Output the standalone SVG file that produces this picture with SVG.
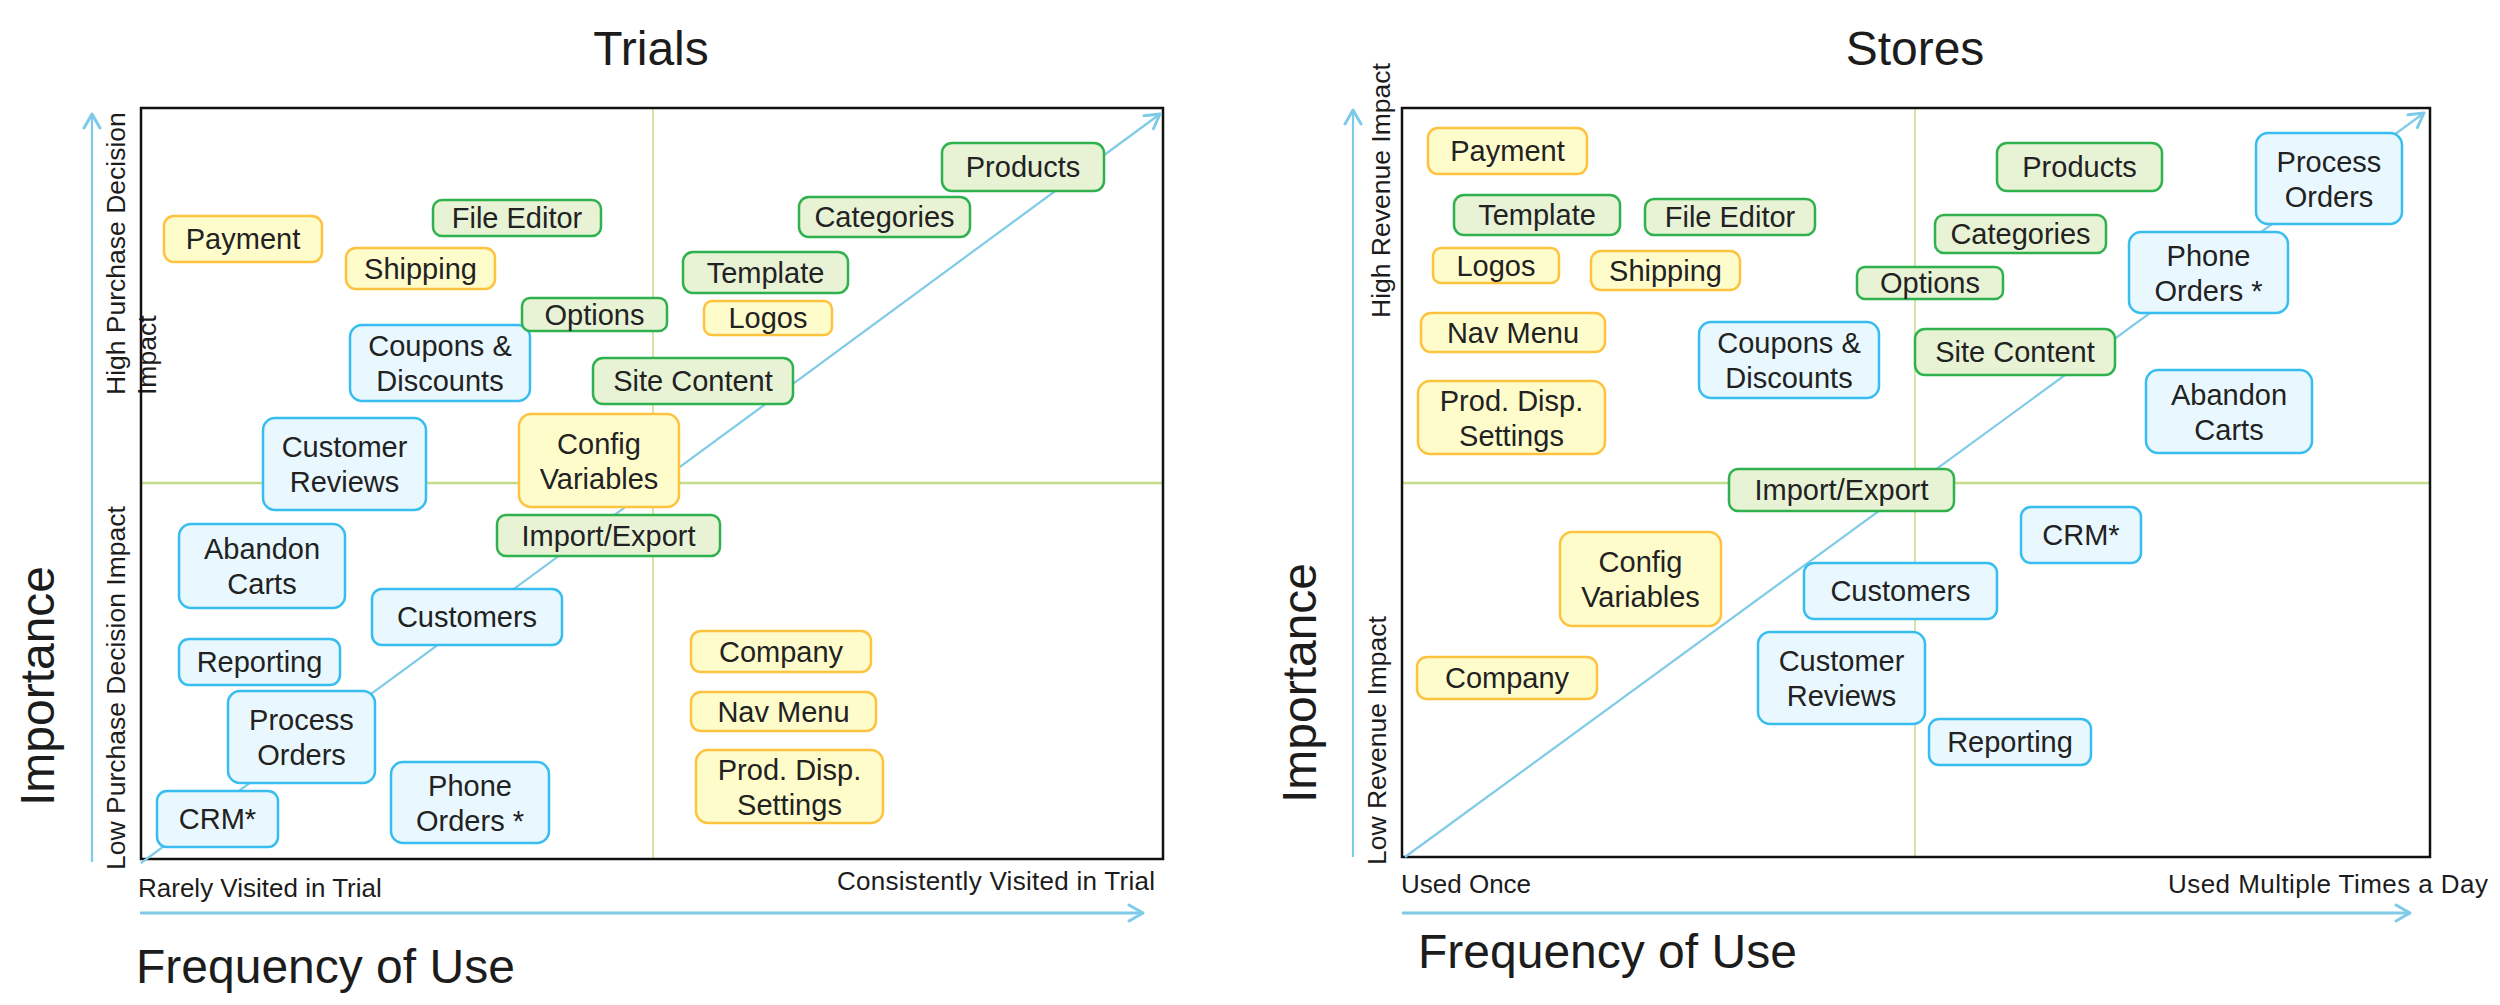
<svg xmlns="http://www.w3.org/2000/svg" width="2500" height="1005" viewBox="0 0 2500 1005">
<defs>
<style>
text{font-family:"Liberation Sans",Arial,sans-serif;fill:#1c1c1c}
.node rect{stroke-width:2.5}
.node text{font-size:29px;text-anchor:middle;fill:#222}
.y rect{fill:#FFFCCC;stroke:#FDC23E}
.g rect{fill:#E8F3D6;stroke:#2FB14E}
.b rect{fill:#E9F8FE;stroke:#38BDF0}
.title{font-size:48px;text-anchor:middle}
.big{font-size:48px}
.ax{font-size:26.5px}
.axs{font-size:26px}
.frame{fill:none;stroke:#111;stroke-width:2.5}
.mid{stroke:#C2DC8A;stroke-width:2.5}
.midv{stroke:#C2DC8A;stroke-width:1.5}
.con{fill:none;stroke:#7FCBE7;stroke-width:2.2}
.axis{fill:none;stroke:#7FCBE7;stroke-width:3}
</style>
<marker id="arr" viewBox="0 0 18 20" refX="16" refY="10" markerWidth="18" markerHeight="20" orient="auto" markerUnits="userSpaceOnUse">
<path d="M2,2 L16,10 L2,18" fill="none" stroke="#7FCBE7" stroke-width="3" stroke-linecap="round" stroke-linejoin="round"/>
</marker>
</defs>
<rect width="2500" height="1005" fill="#fff"/>

<!-- Titles and axis labels -->
<text class="title" x="651" y="65">Trials</text>
<text class="title" x="1915" y="65">Stores</text>

<text class="big" transform="translate(54,686) rotate(-90)" text-anchor="middle">Importance</text>
<text class="big" transform="translate(1316,683) rotate(-90)" text-anchor="middle">Importance</text>

<text class="ax" transform="translate(125,395) rotate(-90)">High Purchase Decision</text>
<text class="ax" transform="translate(156,395) rotate(-90)">Impact</text>
<text class="ax" transform="translate(125,870) rotate(-90)">Low Purchase Decision Impact</text>
<text class="ax" transform="translate(1390,318) rotate(-90)">High Revenue Impact</text>
<text class="ax" transform="translate(1386,865) rotate(-90)">Low Revenue Impact</text>

<text class="axs" x="138" y="897">Rarely Visited in Trial</text>
<text class="axs" x="837" y="890" textLength="318">Consistently Visited in Trial</text>
<text class="axs" x="1401" y="893">Used Once</text>
<text class="axs" x="2168" y="893" textLength="320">Used Multiple Times a Day</text>

<text class="big" x="136" y="983">Frequency of Use</text>
<text class="big" x="1418" y="968">Frequency of Use</text>

<!-- Plot frames and quadrant lines -->
<line class="mid" x1="141" y1="483" x2="1163" y2="483"/>
<line class="midv" x1="653" y1="108" x2="653" y2="859"/>
<rect class="frame" x="141" y="108" width="1022" height="751"/>
<line class="mid" x1="1402" y1="483" x2="2430" y2="483"/>
<line class="midv" x1="1915" y1="108" x2="1915" y2="857"/>
<rect class="frame" x="1402" y="108" width="1028" height="749"/>

<!-- Connectors -->
<g id="connectors">
<line class="con" x1="141" y1="863" x2="1160" y2="114" marker-end="url(#arr)"/>
<line class="con" x1="1405" y1="857" x2="2424" y2="113" marker-end="url(#arr)"/>
<line class="con" x1="92" y1="862" x2="92" y2="114" marker-end="url(#arr)"/>
<line class="con" x1="1353" y1="857" x2="1353" y2="110" marker-end="url(#arr)"/>
<line class="axis" x1="140" y1="913" x2="1143" y2="913" marker-end="url(#arr)"/>
<line class="axis" x1="1402" y1="913" x2="2410" y2="913" marker-end="url(#arr)"/>
</g>

<!-- Trials nodes -->
<g id="t-products" class="node g"><rect x="942" y="143" width="162" height="48" rx="10"/><text x="1023" y="177">Products</text></g>
<g id="t-categories" class="node g"><rect x="799" y="197" width="171" height="40" rx="10"/><text x="884.5" y="227">Categories</text></g>
<g id="t-file-editor" class="node g"><rect x="433" y="200" width="168" height="36" rx="9"/><text x="517" y="228">File Editor</text></g>
<g id="t-payment" class="node y"><rect x="164" y="216" width="158" height="46" rx="10"/><text x="243" y="249">Payment</text></g>
<g id="t-shipping" class="node y"><rect x="346" y="248" width="149" height="41" rx="10"/><text x="420.5" y="278.5">Shipping</text></g>
<g id="t-template" class="node g"><rect x="683" y="252" width="165" height="41" rx="10"/><text x="765.5" y="282.5">Template</text></g>
<g id="t-coupons" class="node b"><rect x="350" y="325" width="180" height="76" rx="12"/><text x="440" y="356">Coupons &amp;<tspan x="440" dy="35">Discounts</tspan></text></g>
<g id="t-options" class="node g"><rect x="522" y="298" width="145" height="33" rx="8"/><text x="594.5" y="324.5">Options</text></g>
<g id="t-logos" class="node y"><rect x="704" y="301" width="128" height="34" rx="8"/><text x="768" y="328">Logos</text></g>
<g id="t-site-content" class="node g"><rect x="593" y="358" width="200" height="46" rx="10"/><text x="693" y="391">Site Content</text></g>
<g id="t-customer-reviews" class="node b"><rect x="263" y="418" width="163" height="92" rx="12"/><text x="344.5" y="457">Customer<tspan x="344.5" dy="35">Reviews</tspan></text></g>
<g id="t-config-variables" class="node y"><rect x="519" y="414" width="160" height="93" rx="12"/><text x="599" y="453.5">Config<tspan x="599" dy="35">Variables</tspan></text></g>
<g id="t-import-export" class="node g"><rect x="497" y="515" width="223" height="41" rx="9"/><text x="608.5" y="545.5">Import/Export</text></g>
<g id="t-abandon-carts" class="node b"><rect x="179" y="524" width="166" height="84" rx="12"/><text x="262" y="559">Abandon<tspan x="262" dy="35">Carts</tspan></text></g>
<g id="t-customers" class="node b"><rect x="372" y="589" width="190" height="56" rx="10"/><text x="467" y="627">Customers</text></g>
<g id="t-reporting" class="node b"><rect x="179" y="639" width="161" height="46" rx="10"/><text x="259.5" y="672">Reporting</text></g>
<g id="t-process-orders" class="node b"><rect x="228" y="691" width="147" height="92" rx="12"/><text x="301.5" y="730">Process<tspan x="301.5" dy="35">Orders</tspan></text></g>
<g id="t-crm" class="node b"><rect x="157" y="791" width="121" height="56" rx="10"/><text x="217.5" y="829">CRM*</text></g>
<g id="t-phone-orders" class="node b"><rect x="391" y="762" width="158" height="81" rx="12"/><text x="470" y="795.5">Phone<tspan x="470" dy="35">Orders *</tspan></text></g>
<g id="t-company" class="node y"><rect x="691" y="631" width="180" height="41" rx="10"/><text x="781" y="661.5">Company</text></g>
<g id="t-nav-menu" class="node y"><rect x="691" y="692" width="185" height="39" rx="10"/><text x="783.5" y="721.5">Nav Menu</text></g>
<g id="t-prod-disp" class="node y"><rect x="696" y="750" width="187" height="73" rx="12"/><text x="789.5" y="779.5">Prod. Disp.<tspan x="789.5" dy="35">Settings</tspan></text></g>

<!-- Stores nodes -->
<g id="s-payment" class="node y"><rect x="1428" y="128" width="159" height="46" rx="10"/><text x="1507.5" y="161">Payment</text></g>
<g id="s-template" class="node g"><rect x="1454" y="195" width="166" height="40" rx="10"/><text x="1537" y="225">Template</text></g>
<g id="s-file-editor" class="node g"><rect x="1645" y="199" width="170" height="36" rx="9"/><text x="1730" y="227">File Editor</text></g>
<g id="s-logos" class="node y"><rect x="1433" y="248" width="126" height="35" rx="8"/><text x="1496" y="275.5">Logos</text></g>
<g id="s-shipping" class="node y"><rect x="1591" y="251" width="149" height="39" rx="10"/><text x="1665.5" y="280.5">Shipping</text></g>
<g id="s-nav-menu" class="node y"><rect x="1421" y="313" width="184" height="39" rx="10"/><text x="1513" y="342.5">Nav Menu</text></g>
<g id="s-prod-disp" class="node y"><rect x="1418" y="381" width="187" height="73" rx="12"/><text x="1511.5" y="410.5">Prod. Disp.<tspan x="1511.5" dy="35">Settings</tspan></text></g>
<g id="s-coupons" class="node b"><rect x="1699" y="322" width="180" height="76" rx="12"/><text x="1789" y="353">Coupons &amp;<tspan x="1789" dy="35">Discounts</tspan></text></g>
<g id="s-products" class="node g"><rect x="1997" y="143" width="165" height="48" rx="10"/><text x="2079.5" y="177">Products</text></g>
<g id="s-categories" class="node g"><rect x="1935" y="215" width="171" height="38" rx="9"/><text x="2020.5" y="244">Categories</text></g>
<g id="s-options" class="node g"><rect x="1857" y="267" width="146" height="32" rx="8"/><text x="1930" y="293">Options</text></g>
<g id="s-site-content" class="node g"><rect x="1915" y="329" width="200" height="46" rx="10"/><text x="2015" y="362">Site Content</text></g>
<g id="s-process-orders" class="node b"><rect x="2256" y="133" width="146" height="91" rx="12"/><text x="2329" y="171.5">Process<tspan x="2329" dy="35">Orders</tspan></text></g>
<g id="s-phone-orders" class="node b"><rect x="2129" y="232" width="159" height="81" rx="12"/><text x="2208.5" y="265.5">Phone<tspan x="2208.5" dy="35">Orders *</tspan></text></g>
<g id="s-abandon-carts" class="node b"><rect x="2146" y="370" width="166" height="83" rx="12"/><text x="2229" y="404.5">Abandon<tspan x="2229" dy="35">Carts</tspan></text></g>
<g id="s-import-export" class="node g"><rect x="1729" y="469" width="225" height="42" rx="9"/><text x="1841.5" y="500">Import/Export</text></g>
<g id="s-crm" class="node b"><rect x="2021" y="507" width="120" height="56" rx="10"/><text x="2081" y="545">CRM*</text></g>
<g id="s-config-variables" class="node y"><rect x="1560" y="532" width="161" height="94" rx="12"/><text x="1640.5" y="572">Config<tspan x="1640.5" dy="35">Variables</tspan></text></g>
<g id="s-customers" class="node b"><rect x="1804" y="563" width="193" height="56" rx="10"/><text x="1900.5" y="601">Customers</text></g>
<g id="s-company" class="node y"><rect x="1417" y="657" width="180" height="42" rx="10"/><text x="1507" y="688">Company</text></g>
<g id="s-customer-reviews" class="node b"><rect x="1758" y="632" width="167" height="92" rx="12"/><text x="1841.5" y="671">Customer<tspan x="1841.5" dy="35">Reviews</tspan></text></g>
<g id="s-reporting" class="node b"><rect x="1929" y="719" width="162" height="46" rx="10"/><text x="2010" y="752">Reporting</text></g>
</svg>
